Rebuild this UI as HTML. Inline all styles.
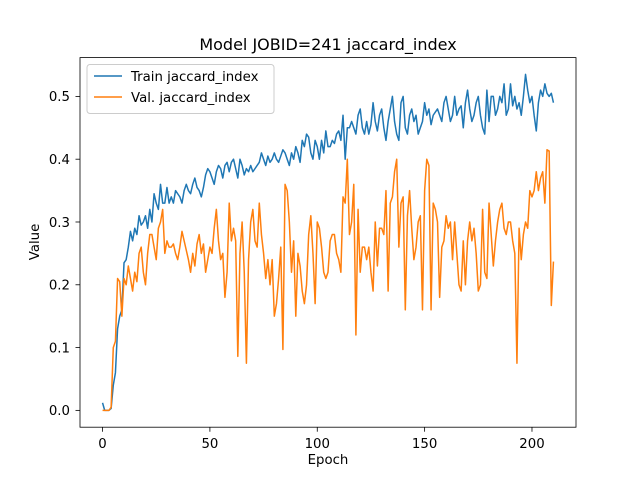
<!DOCTYPE html>
<html><head><meta charset="utf-8"><style>
body{margin:0;background:#fff;font-family:"DejaVu Sans","Liberation Sans",sans-serif}
svg text{font-family:"DejaVu Sans","Liberation Sans",sans-serif}
</style></head><body>
<svg id="c" width="640" height="480" xmlns="http://www.w3.org/2000/svg"></svg>
<script>
const epochs = Array.from({length:211},(_, i)=>i);
const trainValues = [
.012,0,0,0,.003,.04,.06,.13,.15,.16,
.235,.24,.26,.285,.27,.29,.28,.31,.295,.30,
.31,.29,.32,.30,.345,.33,.32,.36,.33,.33,
.355,.33,.34,.33,.35,.345,.34,.33,.35,.36,
.35,.345,.36,.37,.355,.35,.34,.355,.375,.385,
.38,.37,.36,.38,.39,.385,.37,.39,.395,.38,
.395,.40,.385,.37,.40,.39,.375,.385,.38,.39,
.38,.385,.39,.395,.41,.40,.39,.405,.395,.40,
.41,.40,.395,.405,.415,.41,.40,.39,.41,.40,
.42,.41,.395,.43,.42,.44,.435,.41,.40,.43,
.42,.40,.43,.41,.445,.42,.42,.43,.425,.44,
.445,.43,.47,.40,.45,.45,.46,.45,.44,.47,
.48,.45,.44,.46,.44,.455,.49,.46,.445,.47,
.48,.45,.43,.46,.48,.50,.46,.44,.43,.49,
.50,.45,.44,.47,.48,.46,.47,.44,.45,.46,
.49,.47,.48,.455,.47,.475,.48,.47,.46,.49,
.50,.48,.46,.47,.50,.47,.48,.485,.45,.49,
.51,.48,.46,.47,.49,.50,.47,.45,.44,.51,
.46,.50,.50,.47,.48,.50,.49,.52,.47,.48,
.52,.485,.50,.48,.49,.47,.50,.535,.51,.49,
.50,.47,.445,.49,.51,.50,.52,.505,.50,.505,
.49];
const valValues = [
0,0,0,0,.005,.10,.11,.21,.205,.15,
.21,.20,.23,.21,.19,.22,.205,.25,.26,.22,
.20,.25,.28,.28,.26,.24,.29,.30,.32,.25,
.27,.26,.26,.265,.25,.24,.26,.285,.27,.255,
.24,.22,.25,.23,.265,.28,.25,.265,.22,.24,
.26,.25,.29,.32,.27,.24,.25,.18,.22,.33,
.27,.29,.27,.086,.25,.30,.22,.075,.24,.30,
.32,.27,.26,.33,.28,.25,.21,.24,.20,.24,
.15,.17,.21,.26,.097,.36,.35,.30,.22,.27,
.15,.25,.23,.19,.17,.20,.28,.31,.25,.17,
.30,.29,.26,.22,.21,.22,.27,.28,.28,.25,
.24,.22,.34,.33,.40,.28,.30,.36,.12,.32,
.22,.26,.26,.24,.26,.22,.19,.30,.23,.29,
.29,.28,.35,.19,.33,.34,.38,.40,.26,.33,
.34,.16,.31,.35,.29,.24,.26,.30,.31,.16,
.35,.40,.39,.16,.33,.32,.30,.18,.26,.27,
.31,.29,.30,.24,.30,.25,.20,.19,.27,.20,
.27,.30,.27,.29,.25,.19,.20,.32,.22,.21,
.33,.28,.23,.27,.30,.32,.33,.29,.28,.30,
.30,.27,.25,.075,.29,.24,.28,.30,.29,.35,
.34,.35,.38,.35,.37,.38,.33,.415,.413,.167,
.237];
const xTicks = [0,50,100,150,200];
const yTicks = [0.0,0.1,0.2,0.3,0.4,0.5];
const yTickLabels = ["0.0","0.1","0.2","0.3","0.4","0.5"];

const L=80,R=576,T=57.6,B=427.2;
const xMin=-10.5,xMax=220.5,yMin=-0.0268,yMax=0.5618;
const xs=v=>L+(v-xMin)/(xMax-xMin)*(R-L);
const ys=v=>B-(v-yMin)/(yMax-yMin)*(B-T);
const svg=document.getElementById('c');
const NS='http://www.w3.org/2000/svg';
function mk(tag,attrs,txt){const e=document.createElementNS(NS,tag);for(const k in attrs)e.setAttribute(k,attrs[k]);if(txt!==undefined)e.textContent=txt;svg.appendChild(e);return e;}

xTicks.forEach(t=>{
  const x=xs(t);
  const tk=mk('line',{x1:x,x2:x,y1:B,y2:B+4.5,stroke:'#000','stroke-width':0.8});
  
  
  const lb=mk('text',{x:x,y:B+21,'font-size':13.3,'text-anchor':'middle'},String(t));
  
  
});
yTicks.forEach((t,i)=>{
  const y=ys(t);
  const tk=mk('line',{x1:L-4.5,x2:L,y1:y,y2:y,stroke:'#000','stroke-width':0.8});
  
  
  const lb=mk('text',{x:L-10,y:y+4.8,'font-size':13.3,'text-anchor':'end'},yTickLabels[i]);
  
  
});
function line(vals,color,name){
  const d=vals.map((v,i)=>(i?'L':'M')+xs(epochs[i]).toFixed(2)+' '+ys(v).toFixed(2)).join(' ');
  const p=mk('path',{d:d,fill:'none',stroke:color,'stroke-width':1.5,'stroke-linejoin':'round'});
  
  
}
line(trainValues,'#1f77b4','train-line');
line(valValues,'#ff7f0e','val-line');
const frame=mk('rect',{x:L,y:T,width:R-L,height:B-T,fill:'none',stroke:'#000','stroke-width':0.8});


const title=mk('text',{x:(L+R)/2,y:50,'font-size':16,'text-anchor':'middle'},'Model JOBID=241 jaccard_index');


const xl=mk('text',{x:(L+R)/2,y:464,'font-size':13.3,'text-anchor':'middle'},'Epoch');


const yl=mk('text',{x:0,y:0,'font-size':13.3,'text-anchor':'middle',transform:'translate(39,242) rotate(-90)'},'Value');


const lg=mk('rect',{x:87,y:64.5,width:187,height:49,rx:3,fill:'#fff','fill-opacity':0.8,stroke:'#ccc','stroke-width':1});


[['Train jaccard_index','#1f77b4',76],['Val. jaccard_index','#ff7f0e',97]].forEach(([t,c,y])=>{
  const s=mk('line',{x1:94,x2:122,y1:y,y2:y,stroke:c,'stroke-width':1.5});
  
  
  const tx=mk('text',{x:131,y:y+4.8,'font-size':13.3},t);
  
  
});
</script>
</body></html>
